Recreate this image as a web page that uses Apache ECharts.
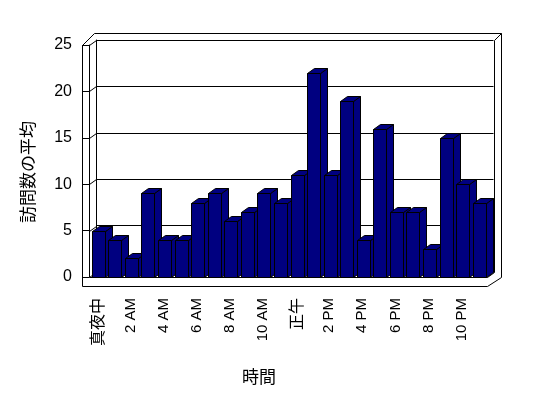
<!DOCTYPE html>
<html>
<head>
<meta charset="utf-8">
<script src="https://cdn.jsdelivr.net/npm/echarts@6/dist/echarts.min.js"></script>
<style>
  html, body { margin: 0; padding: 0; background: #fff; }
  #chart { width: 548px; height: 398px; }
</style>
</head>
<body>
<div id="chart"></div>
<script>
// hours of the day (Japanese labels for midnight and noon)
const categories = [
  '真夜中', '1 AM', '2 AM', '3 AM', '4 AM', '5 AM', '6 AM', '7 AM', '8 AM', '9 AM', '10 AM', '11 AM',
  '正午', '1 PM', '2 PM', '3 PM', '4 PM', '5 PM', '6 PM', '7 PM', '8 PM', '9 PM', '10 PM', '11 PM'
];
// average number of visits per hour
const visits = [5, 4, 2, 9, 4, 4, 8, 9, 6, 7, 9, 8, 11, 22, 11, 19, 4, 16, 7, 7, 3, 15, 10, 8];
const yMin = 0, yMax = 25, yStep = 5;
const yTicks = [0, 5, 10, 15, 20, 25];

// fake 3d layout
const L = 89, R = 486.5, T = 45, B = 277;
const DX = 7, DY = -5;      // depth shift of back wall
const WALL = 7, FLOOR = 9, BACK = 7;
const NAVY = '#000080';
const latin = '"Liberation Sans", Arial, sans-serif';
const cjk = '"Noto Sans CJK JP", sans-serif';

const chart = echarts.init(document.getElementById('chart'), null, { renderer: 'canvas' });

const c = v => Math.round(v) + 0.5;

function renderBar(params, api) {
  const i = api.value(0), v = api.value(1);
  const top = api.coord([i, v]);
  const base = api.coord([i, 0]);
  const bw = api.size([1, 0])[0];
  const w = Math.round(bw * 0.8);
  const x0 = c(top[0] - w / 2 + 1), x1 = x0 + w;
  const y0 = c(top[1]), yb = c(base[1]);
  const style = { fill: NAVY, stroke: '#000', lineWidth: 1 };
  return {
    type: 'group',
    children: [
      { type: 'polygon', shape: { points: [[x1, y0], [x1 + DX, y0 + DY], [x1 + DX, yb + DY], [x1, yb]] }, style },
      { type: 'polygon', shape: { points: [[x0, y0], [x1, y0], [x1 + DX, y0 + DY], [x0 + DX, y0 + DY]] }, style },
      { type: 'rect', shape: { x: x0, y: y0, width: w, height: yb - y0 }, style }
    ]
  };
}

const option = {
  animation: false,
  backgroundColor: '#fff',
  grid: [
    { left: L, top: T, width: R - L, height: B - T },
    { left: L + DX, top: T + DY, width: R - L, height: B - T }
  ],
  xAxis: [
    {
      type: 'category', gridIndex: 0, data: categories, offset: FLOOR,
      axisLine: { show: false },
      axisTick: { show: true, inside: true, length: FLOOR, interval: 0, lineStyle: { color: '#000' } },
      axisLabel: {
        interval: 1, rotate: 90, margin: 12, color: '#000',
        fontFamily: latin, fontSize: 15,
        formatter: v => /[A-Z]/.test(v) ? v : '{c|' + v + '}',
        rich: { c: { fontFamily: cjk, fontSize: 16, color: '#000' } }
      },
      splitLine: { show: false }
    },
    { type: 'category', gridIndex: 1, data: categories, show: false }
  ],
  yAxis: [
    {
      type: 'value', gridIndex: 0, min: yMin, max: yMax, interval: yStep,
      axisLine: { show: true, lineStyle: { color: '#000' } },
      axisTick: { show: true, length: WALL, lineStyle: { color: '#000' } },
      axisLabel: { color: '#000', fontFamily: latin, fontSize: 16, margin: 17 },
      splitLine: { show: false }
    },
    {
      type: 'value', gridIndex: 1, min: yMin, max: yMax, interval: yStep,
      axisLine: { show: true, lineStyle: { color: '#000' } },
      axisTick: { show: false },
      axisLabel: { show: false },
      splitLine: { show: true, lineStyle: { color: '#000', width: 1 } }
    }
  ],
  series: [
    {
      type: 'custom', xAxisIndex: 0, yAxisIndex: 0,
      renderItem: renderBar,
      encode: { x: 0, y: 1 },
      data: visits.map((v, i) => [i, v]),
      z: 5
    }
  ]
};

chart.setOption(option);

// frame of the 3d box
const line = (pts) => ({
  type: 'polyline', z: 1, silent: true,
  shape: { points: pts.map(p => [c(p[0]), c(p[1])]) },
  style: { stroke: '#000', lineWidth: 1, fill: null }
});
const outerTop = T + DY - BACK;
const outerRight = R + DX + BACK;
const frame = [
  line([[L - WALL, B + FLOOR], [L - WALL, T], [L - WALL + (T - outerTop), outerTop], [outerRight, outerTop], [outerRight, B], [R, B + FLOOR]]),
  line([[L - WALL, B + FLOOR], [R, B + FLOOR]]),
  line([[L, B], [R, B]]),
  line([[R, B], [R + DX, B + DY]]),
  line([[R + DX, B + DY], [R + DX, T + DY], [outerRight, outerTop]])
];
yTicks.forEach(v => {
  const y = chart.convertToPixel({ yAxisIndex: 0 }, v);
  frame.push(line([[L, y], [L + DX, y + DY]]));
});
frame.push({
  type: 'text', silent: true, x: 28, y: 172, rotation: Math.PI / 2,
  style: { text: '訪問数の平均', fill: '#000', font: '17px ' + cjk, align: 'center', verticalAlign: 'middle' }
});
frame.push({
  type: 'text', silent: true, x: 259, y: 377,
  style: { text: '時間', fill: '#000', font: '17px ' + cjk, align: 'center', verticalAlign: 'middle' }
});
chart.setOption({ graphic: frame });
</script>
</body>
</html>
